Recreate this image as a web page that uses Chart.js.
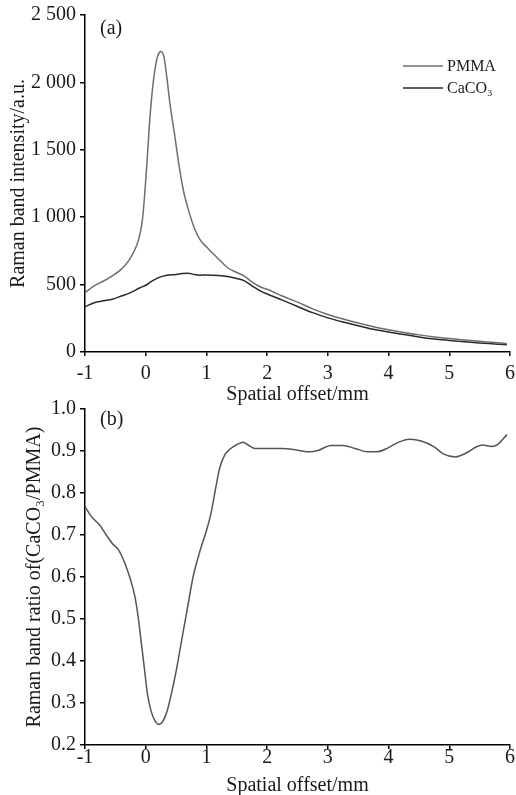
<!DOCTYPE html>
<html>
<head>
<meta charset="utf-8">
<script src="https://cdn.jsdelivr.net/npm/chart.js@4"></script>
<style>
  html, body { margin: 0; padding: 0; background: #fff; }
  #wrap { position: relative; width: 516px; height: 795px; background: #fff; overflow: hidden; }
  canvas { position: absolute; left: 0; }
  #chart-a { top: 0; }
  #chart-b { top: 395px; }
</style>
</head>
<body>
<div id="wrap">
  <canvas id="chart-a" width="516" height="410"></canvas>
  <canvas id="chart-b" width="516" height="400"></canvas>
</div>
<script>
// (a) Raman band intensity vs spatial offset
const pmmaX = [-1.00, -0.85, -0.70, -0.55, -0.40, -0.30, -0.20, -0.12, -0.06, -0.02, 0.02, 0.06, 0.10, 0.15, 0.20, 0.25, 0.30, 0.35, 0.40, 0.48, 0.55, 0.62, 0.70, 0.80, 0.90, 1.00, 1.10, 1.20, 1.35, 1.50, 1.62, 1.75, 1.90, 2.00, 2.25, 2.50, 2.75, 3.00, 3.25, 3.50, 3.75, 4.00, 4.25, 4.50, 4.75, 5.00, 5.25, 5.50, 5.75, 5.95];
const pmmaY = [440, 490, 525, 565, 615, 665, 740, 830, 960, 1150, 1400, 1680, 1900, 2090, 2200, 2230, 2190, 2030, 1840, 1600, 1380, 1200, 1060, 920, 830, 780, 735, 690, 625, 590, 565, 520, 480, 465, 415, 370, 320, 278, 245, 215, 188, 165, 145, 127, 112, 100, 89, 79, 70, 62];

const cacoX = [-1.00, -0.85, -0.70, -0.55, -0.40, -0.25, -0.10, 0.00, 0.10, 0.20, 0.35, 0.50, 0.60, 0.70, 0.80, 0.90, 1.00, 1.20, 1.35, 1.50, 1.62, 1.75, 1.90, 2.00, 2.25, 2.50, 2.75, 3.00, 3.25, 3.50, 3.75, 4.00, 4.25, 4.50, 4.75, 5.00, 5.25, 5.50, 5.75, 5.95];
const cacoY = [336, 365, 380, 392, 415, 440, 475, 495, 525, 550, 570, 575, 582, 585, 575, 570, 572, 568, 560, 545, 530, 490, 450, 430, 385, 338, 292, 253, 222, 195, 168, 148, 130, 112, 97, 86, 76, 67, 60, 54];

// (b) ratio CaCO3 / PMMA
const ratioX = [-1.00, -0.90, -0.75, -0.65, -0.55, -0.45, -0.35, -0.26, -0.18, -0.12, -0.07, -0.02, 0.03, 0.09, 0.15, 0.22, 0.28, 0.35, 0.42, 0.50, 0.59, 0.68, 0.78, 0.90, 1.00, 1.08, 1.15, 1.22, 1.30, 1.40, 1.50, 1.60, 1.70, 1.80, 2.00, 2.25, 2.50, 2.70, 2.85, 3.05, 3.25, 3.45, 3.65, 3.80, 4.00, 4.15, 4.35, 4.55, 4.75, 4.90, 5.10, 5.30, 5.45, 5.55, 5.70, 5.80, 5.95];
const ratioY = [0.768, 0.745, 0.722, 0.700, 0.680, 0.665, 0.635, 0.598, 0.555, 0.500, 0.440, 0.380, 0.320, 0.280, 0.258, 0.249, 0.256, 0.280, 0.320, 0.375, 0.448, 0.520, 0.600, 0.665, 0.710, 0.755, 0.810, 0.860, 0.890, 0.906, 0.915, 0.921, 0.913, 0.906, 0.906, 0.906, 0.902, 0.898, 0.902, 0.913, 0.913, 0.906, 0.898, 0.898, 0.908, 0.920, 0.928, 0.923, 0.910, 0.893, 0.886, 0.897, 0.910, 0.914, 0.911, 0.916, 0.939];

const seriesNames = ['PMMA', 'CaCO₃'];
const xTitle = 'Spatial offset/mm';
const yTitleA = 'Raman band intensity/a.u.';
const yTitleB = 'Raman band ratio of(CaCO₃/PMMA)';

const serif = "'Liberation Serif', 'Times New Roman', 'DejaVu Serif', serif";
const ink = '#1a1a1a';

function pts(xs, ys) {
    return xs.map((x, i) => ({ x: x, y: ys[i] }));
}

// panel letter + small legend drawn on top
const panelPlugin = {
    id: 'panel',
    afterDraw(chart, args, opts) {
        const ctx = chart.ctx;
        ctx.save();
        ctx.fillStyle = ink;
        ctx.textBaseline = 'middle';
        ctx.textAlign = 'left';
        ctx.font = '20px ' + serif;
        ctx.fillText(opts.letter, opts.lx, opts.ly);
        if (opts.legend) {
            ctx.font = '16px ' + serif;
            chart.data.datasets.forEach((ds, i) => {
                const y = 66 + i * 22;
                ctx.strokeStyle = ds.borderColor;
                ctx.lineWidth = 1.5;
                ctx.beginPath();
                ctx.moveTo(403, y);
                ctx.lineTo(443, y);
                ctx.stroke();
                ctx.fillStyle = ink;
                ctx.fillText(ds.label, 447, y + 1);
            });
        }
        ctx.restore();
    }
};

// tick padding also feeds the right-edge padding, so push labels down with lineHeight instead
function xAxis(height, tickPad, tickLH, titlePad) {
    return {
        type: 'linear',
        min: -1, max: 6,
        afterFit: s => { s.height = height; },
        grid: { drawOnChartArea: false, drawTicks: true, tickLength: 4, color: '#000', lineWidth: 1.5 },
        border: { display: true, color: '#000', width: 1.5 },
        ticks: {
            stepSize: 1, color: ink, padding: tickPad, maxRotation: 0,
            font: { family: serif, size: 20, lineHeight: tickLH },
            callback: v => String(v)
        },
        title: {
            display: true, text: xTitle, color: ink,
            font: { family: serif, size: 20, lineHeight: 1 },
            padding: { top: 0, bottom: titlePad }
        }
    };
}

function yAxis(min, max, step, fmt, titlePad) {
    return {
        min: min, max: max,
        afterFit: s => { s.width = 85; },
        grid: { drawOnChartArea: false, drawTicks: true, tickLength: 5, color: '#000', lineWidth: 1.5 },
        border: { display: true, color: '#000', width: 1.5 },
        ticks: {
            stepSize: step, color: ink, padding: 4,
            font: { family: serif, size: 20, lineHeight: 1 },
            callback: fmt
        },
        title: {
            display: true, color: ink,
            font: { family: serif, size: 20, lineHeight: 1 },
            padding: { top: titlePad, bottom: 0 }
        }
    };
}

const lineStyle = {
    borderWidth: 1.5,
    pointRadius: 0,
    fill: false,
    cubicInterpolationMode: 'monotone'
};

// thousands with a space, like "2 500"
const fmtA = v => v >= 1000 ? Math.floor(v / 1000) + ' ' + String(v % 1000).padStart(3, '0') : String(v);

const yA = yAxis(0, 2500, 500, fmtA, 8.5);
yA.title.text = yTitleA;

new Chart(document.getElementById('chart-a'), {
    type: 'line',
    data: {
        datasets: [
            { label: seriesNames[0], data: pts(pmmaX, pmmaY), borderColor: '#6e6e6e', ...lineStyle },
            { label: seriesNames[1], data: pts(cacoX, cacoY), borderColor: '#2a2a2a', ...lineStyle }
        ]
    },
    options: {
        responsive: false,
        animation: false,
        layout: { padding: { top: 15, right: 6, left: 0, bottom: 0 } },
        plugins: {
            legend: { display: false },
            tooltip: { enabled: false },
            panel: { letter: '(a)', lx: 100, ly: 29, legend: true }
        },
        scales: { x: xAxis(58, 1, 1.7, 5), y: yA }
    },
    plugins: [panelPlugin]
});

const yB = yAxis(0.2, 1.0, 0.1, v => v.toFixed(1), 24.5);
yB.title.text = yTitleB;

new Chart(document.getElementById('chart-b'), {
    type: 'line',
    data: {
        datasets: [
            { label: 'ratio', data: pts(ratioX, ratioY), borderColor: '#555555', ...lineStyle }
        ]
    },
    options: {
        responsive: false,
        animation: false,
        layout: { padding: { top: 12, right: 6, left: 0, bottom: 0 } },
        plugins: {
            legend: { display: false },
            tooltip: { enabled: false },
            panel: { letter: '(b)', lx: 100, ly: 25, legend: false }
        },
        scales: { x: xAxis(50, -1, 1, -1), y: yB }
    },
    plugins: [panelPlugin]
});
</script>
</body>
</html>
